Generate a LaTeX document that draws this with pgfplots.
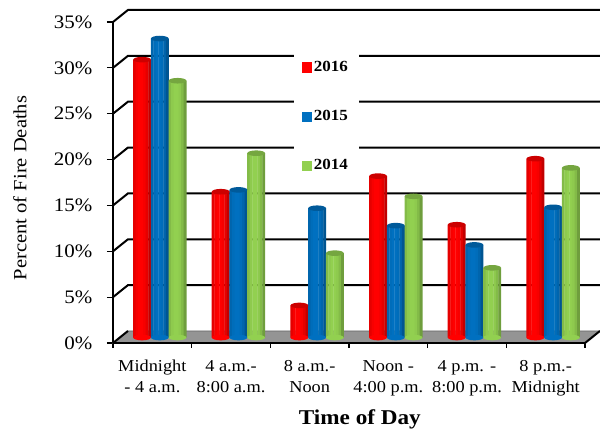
\documentclass[border=0pt]{standalone}
\usepackage{fontspec}
\setmainfont[FakeStretch=1.1]{Liberation Serif}
\usepackage{pgfplots}
\usepackage{pgfplotstable}
\pgfplotsset{compat=1.18}

\definecolor{cred}{HTML}{FF0000}
\definecolor{cblue}{HTML}{0070C0}
\definecolor{cgreen}{HTML}{92D050}

% x = middle of each time slot, base = foot of the cylinder
\pgfplotstableread{
x   y2016 y2015 y2014 base
0.5 30.3  32.6  28.0  0
1.5 15.9  16.1  20.1  0
2.5 3.5   14.1  9.2   0
3.5 17.6  12.2  15.4  0
4.5 12.3  10.1  7.6   0
5.5 19.5  14.2  18.5  0
}\fires

% flat ellipse for the ends of the cylinders
\pgfdeclareplotmark{capell}{%
  \pgfpathellipse{\pgfpointorigin}{\pgfqpoint{\pgfplotmarksize}{0pt}}{\pgfqpoint{0pt}{2.1pt}}%
  \pgfusepathqfill}

\pgfplotsset{
  gridl/.style={black, line width=1.5pt, forget plot},
  strip/.style 2 args={forget plot, ybar, bar width=2.1pt, bar shift=#1,
    draw=none, fill=#2, xshift=5.6pt, yshift=4.1pt},
  cap3d/.style 2 args={forget plot, only marks, mark=capell, mark size=6.65pt,
    xshift=5.6pt+#1, yshift=4.1pt, mark options={draw=none, fill=#2}},
}

% one cylinder body: narrow bars side by side, light in the middle, dark at the edges
\newcommand{\cylinder}[3]{%
  \addplot[strip={#1-5.7pt}{#2!90!black}] table[x=x, y=#3] {\fires};
  \addplot[strip={#1-3.8pt}{#2!97!black}] table[x=x, y=#3] {\fires};
  \addplot[strip={#1-1.9pt}{#2}] table[x=x, y=#3] {\fires};
  \addplot[strip={#1}{#2}] table[x=x, y=#3] {\fires};
  \addplot[strip={#1+1.9pt}{#2!97!black}] table[x=x, y=#3] {\fires};
  \addplot[strip={#1+3.8pt}{#2!90!black}] table[x=x, y=#3] {\fires};
  \addplot[strip={#1+5.7pt}{#2!76!black}] table[x=x, y=#3] {\fires};
}

\begin{document}
\begin{tikzpicture}
\path[use as bounding box] (-84.75pt,-67.5pt) rectangle (365.25pt,257.25pt);
\begin{axis}[
  scale only axis,
  width=354pt, height=240.75pt,
  xmin=0, xmax=6, ymin=0, ymax=35,
  clip=false,
  axis lines=left,
  axis line style={-, black, line width=1.3pt},
  tick align=outside,
  tick style={black, line width=0.8pt},
  major tick length=4.5pt,
  minor tick length=3.5pt,
  xtick={0.5,1.5,2.5,3.5,4.5,5.5},
  minor xtick={0,1,2,3,4,5,6},
  every major x tick/.append style={draw=none},
  xticklabels={{Midnight\\- 4 a.m.},{4 a.m.-\\8:00 a.m.},{8 a.m.-\\Noon},{Noon -\\4:00 p.m.},{4 p.m. -\\8:00 p.m.},{8 p.m.-\\Midnight}},
  xticklabel style={align=center, font=\fontsize{12.5}{15.75}\selectfont, yshift=-4.8pt},
  ytick={0,5,10,15,20,25,30,35},
  yticklabels={0\%,5\%,10\%,15\%,20\%,25\%,30\%,35\%},
  yticklabel style={font=\fontsize{14.3}{16}\selectfont, xshift=-7.5pt},
  xlabel={\textbf{Time of Day}},
  ylabel={Percent of Fire Deaths},
  every axis x label/.style={at={(axis description cs:0.523,-0.238)}, anchor=center, font=\fontsize{15.8}{17}\selectfont},
  every axis y label/.style={at={(axis description cs:-0.197,0.483)}, anchor=center, rotate=90, font=\fontsize{14}{16}\selectfont},
  legend style={at={(axis description cs:0.382,0.908)}, anchor=north west, draw=none, fill=white,
    inner xsep=6.5pt, inner ysep=5pt, row sep=23.7pt,
    font=\fontsize{11.6}{13}\selectfont\bfseries},
  legend cell align=left,
]
\addlegendimage{only marks, mark=square*, mark size=3.4pt, color=cred}
\addlegendentry{2016}
\addlegendimage{only marks, mark=square*, mark size=3.4pt, color=cblue}
\addlegendentry{2015}
\addlegendimage{only marks, mark=square*, mark size=3.4pt, color=cgreen}
\addlegendentry{2014}

% back wall lines
\addplot[gridl] coordinates {(0,5) (0.19,6.31) (6.19,6.31)};
\addplot[gridl] coordinates {(0,10) (0.19,11.31) (6.19,11.31)};
\addplot[gridl] coordinates {(0,15) (0.19,16.31) (6.19,16.31)};
\addplot[gridl] coordinates {(0,20) (0.19,21.31) (6.19,21.31)};
\addplot[gridl] coordinates {(0,25) (0.19,26.31) (6.19,26.31)};
\addplot[gridl] coordinates {(0,30) (0.19,31.31) (6.19,31.31)};
\addplot[gridl] coordinates {(0,35) (0.19,36.31) (6.19,36.31)};

% floor
\addplot[forget plot, fill=black!42, draw=black!60, line width=0.6pt] coordinates {(0,0) (6,0) (6.19,1.31) (0.19,1.31)} -- cycle;
\addplot[gridl] coordinates {(0,0) (0.19,1.31)};
\addplot[gridl] coordinates {(6,0) (6.19,1.31)};
\addplot[gridl] coordinates {(0,0) (6,0)};

% bottom caps, bodies, top caps
\addplot[cap3d={-13.3pt}{cred}] table[x=x, y=base] {\fires};
\addplot[cap3d={0pt}{cblue}] table[x=x, y=base] {\fires};
\addplot[cap3d={13.3pt}{cgreen}] table[x=x, y=base] {\fires};

\cylinder{-13.3pt}{cred}{y2016}
\cylinder{0pt}{cblue}{y2015}
\cylinder{13.3pt}{cgreen}{y2014}

\addplot[cap3d={-13.3pt}{cred!80!black}] table[x=x, y=y2016] {\fires};
\addplot[cap3d={0pt}{cblue!80!black}] table[x=x, y=y2015] {\fires};
\addplot[cap3d={13.3pt}{cgreen!80!black}] table[x=x, y=y2014] {\fires};
\end{axis}
\end{tikzpicture}
\end{document}
